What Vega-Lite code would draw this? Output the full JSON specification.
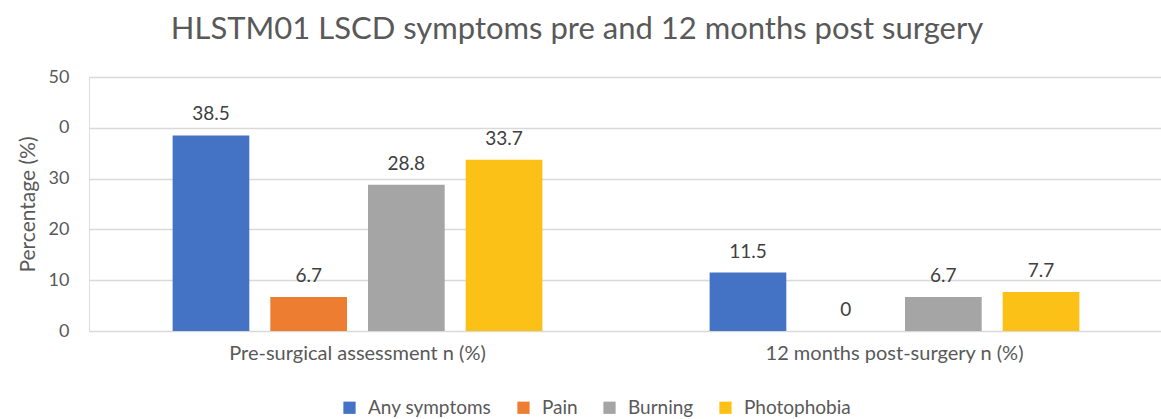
{
  "$schema": "https://vega.github.io/schema/vega-lite/v6.json",
  "width": 1074,
  "height": 254,
  "autosize": {"type": "none"},
  "padding": {"left": 89, "top": 77, "right": 0, "bottom": 88},
  "background": "white",
  "title": {
    "text": "HLSTM01 LSCD symptoms pre and 12 months post surgery",
    "fontSize": 31,
    "font": "Lato",
    "fontWeight": "normal",
    "color": "#595959",
    "anchor": "middle",
    "dx": -49,
    "offset": 22
  },
  "data": {
    "values": [
      {"stage": "Pre-surgical assessment n (%)", "symptom": "Any symptoms", "value": 38.5},
      {"stage": "Pre-surgical assessment n (%)", "symptom": "Pain", "value": 6.7},
      {"stage": "Pre-surgical assessment n (%)", "symptom": "Burning", "value": 28.8},
      {"stage": "Pre-surgical assessment n (%)", "symptom": "Photophobia", "value": 33.7},
      {"stage": "12 months post-surgery n (%)", "symptom": "Any symptoms", "value": 11.5},
      {"stage": "12 months post-surgery n (%)", "symptom": "Pain", "value": 0},
      {"stage": "12 months post-surgery n (%)", "symptom": "Burning", "value": 6.7},
      {"stage": "12 months post-surgery n (%)", "symptom": "Photophobia", "value": 7.7}
    ]
  },
  "encoding": {
    "x": {
      "field": "stage",
      "type": "nominal",
      "sort": ["Pre-surgical assessment n (%)", "12 months post-surgery n (%)"],
      "scale": {"paddingInner": 0, "paddingOuter": 0},
      "axis": {
        "title": null,
        "labelAngle": 0,
        "labelFontSize": 20,
        "labelFont": "Lato",
        "labelColor": "#595959",
        "labelPadding": 12,
        "labelLimit": 600,
        "ticks": false,
        "domain": false
      }
    },
    "xOffset": {
      "field": "symptom",
      "type": "nominal",
      "sort": ["Any symptoms", "Pain", "Burning", "Photophobia"],
      "scale": {"paddingInner": 0.215, "paddingOuter": 0.856}
    },
    "y": {
      "field": "value",
      "type": "quantitative",
      "scale": {"domain": [0, 50]},
      "axis": {
        "title": "Percentage (%)",
        "titleFont": "Lato",
        "titleFontSize": 21,
        "titleFontWeight": "normal",
        "titleColor": "#595959",
        "titlePadding": 10,
        "values": [0, 10, 20, 30, 40, 50],
        "labelExpr": "datum.value == 40 ? '0' : datum.label",
        "labelFontSize": 18,
        "labelFont": "Lato",
        "labelColor": "#595959",
        "labelPadding": 20,
        "ticks": false,
        "domain": false,
        "gridColor": "#d9d9d9",
        "gridWidth": 1.5
      }
    }
  },
  "layer": [
    {
      "mark": {"type": "bar"},
      "encoding": {
        "color": {
          "field": "symptom",
          "type": "nominal",
          "sort": ["Any symptoms", "Pain", "Burning", "Photophobia"],
          "scale": {
            "domain": ["Any symptoms", "Pain", "Burning", "Photophobia"],
            "range": ["#4472C4", "#ED7D31", "#A5A5A5", "#FBC117"]
          },
          "legend": {
            "title": null,
            "orient": "none",
            "direction": "horizontal",
            "legendX": 251,
            "legendY": 321,
            "symbolType": "square",
            "symbolSize": 150,
            "symbolStrokeWidth": 0,
            "labelFont": "Lato",
            "labelFontSize": 19,
            "labelColor": "#595959",
            "columnPadding": 22,
            "labelOffset": 9
          }
        }
      }
    },
    {
      "mark": {"type": "text", "dy": -15, "fontSize": 19, "font": "Lato", "color": "#404040", "baseline": "alphabetic"},
      "encoding": {
        "text": {"field": "value", "type": "quantitative"}
      }
    }
  ]
}
